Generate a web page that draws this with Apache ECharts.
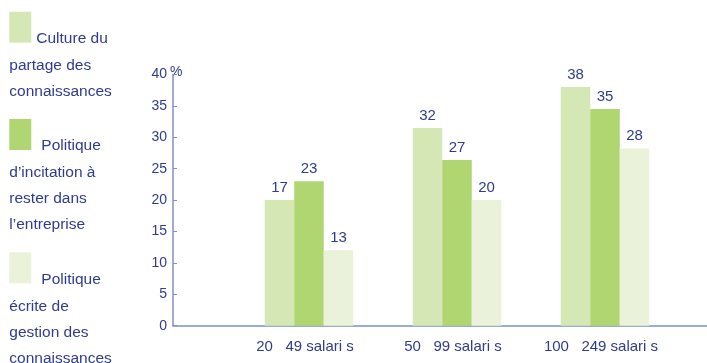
<!DOCTYPE html>
<html>
<head>
<meta charset="utf-8">
<style>
  html, body { margin: 0; padding: 0; background: #fff; }
  #chart { width: 707px; height: 363px; }
</style>
<script src="https://cdn.jsdelivr.net/npm/echarts@6/dist/echarts.min.js"></script>
</head>
<body>
<div id="chart"></div>
<script>
// catégories (texte tel qu'imprimé)
const categories = ['20   49 salari s', '50   99 salari s', '100   249 salari s'];
const seriesNames = [
  'Culture du\npartage des\nconnaissances',
  'Politique\nd\u2019incitation à\nrester dans\nl\u2019entreprise',
  'Politique\nécrite de\ngestion des\nconnaissances'
];
// hauteur des barres
const culture = [20, 31.5, 38];
const incitation = [23, 26.4, 34.5];
const ecrite = [12, 20, 28.2];
// étiquettes imprimées au-dessus des barres
const cultureLabels = [17, 32, 38];
const incitationLabels = [23, 27, 35];
const ecriteLabels = [13, 20, 28];
const yTicks = [0, 5, 10, 15, 20, 25, 30, 35, 40];

const colors = ['#d6e7b6', '#b0d672', '#eaf2da'];
const textColor = '#2f3c8f';
const axisColor = '#8190c6';
const font = 'Liberation Sans, Arial, sans-serif';

let chart = echarts.init(document.getElementById('chart'));

// légende : carré de couleur + texte sur plusieurs lignes (renvoi sous le carré)
const txt = { fontSize: 15.5, fontFamily: font, color: textColor };
const rich = {
  first: { ...txt, lineHeight: 12, height: 28, verticalAlign: 'bottom', padding: [0, 0, 0, 5] },
  firstWide: { ...txt, lineHeight: 12, height: 28, verticalAlign: 'bottom', padding: [0, 0, 0, 10] },
  next: { ...txt, lineHeight: 26 }
};
colors.forEach((c, i) => {
  rich['box' + i] = { width: 22, height: 31, lineHeight: 41, verticalAlign: 'top', backgroundColor: c };
});

const makeSeries = (name, data, labels, idx) => ({
  name: name,
  type: 'bar',
  xAxisIndex: 0,
  yAxisIndex: 0,
  data: data,
  barWidth: 29.5,
  barGap: '0%',
  itemStyle: { color: colors[idx] },
  label: {
    show: true,
    position: 'top',
    distance: 5,
    color: textColor,
    fontSize: 15,
    fontFamily: font,
    formatter: (p) => String(labels[p.dataIndex])
  }
});

let option = {
  animation: false,
  legend: {
    orient: 'vertical',
    left: 4.3,
    top: 11.7,
    height: 420,
    padding: 0,
    itemWidth: 0,
    itemHeight: 0,
    itemGap: 19.3,
    selectedMode: false,
    data: seriesNames,
    formatter: (name) => {
      const idx = seriesNames.indexOf(name);
      const lines = name.split('\n');
      let out = '{box' + idx + '| }{' + (idx === 0 ? 'first' : 'firstWide') + '|' + lines[0] + '}';
      lines.slice(1).forEach((l) => {
        out += '\n{next|' + l + '}';
      });
      return out;
    },
    textStyle: { rich: rich }
  },
  grid: [
    // barres
    { left: 235, right: 28, top: 74.5, bottom: 37.3 },
    // axes visibles
    { left: 173, right: 0, top: 74.5, bottom: 37.3 }
  ],
  xAxis: [
    {
      gridIndex: 0,
      type: 'category',
      data: categories,
      axisLine: { show: false },
      axisTick: { show: false },
      axisLabel: {
        interval: 0,
        color: textColor,
        fontSize: 15,
        fontFamily: font,
        margin: 14,
        padding: [0, 8, 0, 0]
      }
    },
    {
      gridIndex: 1,
      type: 'value',
      min: 0,
      max: 1,
      axisLine: { show: true, onZero: false, lineStyle: { color: axisColor, width: 1.5 } },
      axisTick: { show: false },
      axisLabel: { show: false },
      splitLine: { show: false }
    }
  ],
  yAxis: [
    {
      gridIndex: 0,
      type: 'value',
      min: 0,
      max: 40,
      interval: 5,
      show: false
    },
    {
      gridIndex: 1,
      type: 'value',
      min: yTicks[0],
      max: yTicks[yTicks.length - 1],
      interval: 5,
      name: '%',
      nameLocation: 'end',
      nameGap: 2,
      nameMoveOverlap: false,
      nameTextStyle: {
        color: textColor,
        fontSize: 14,
        fontFamily: font,
        align: 'left',
        verticalAlign: 'middle',
        padding: [0, 0, 0, -3]
      },
      axisLine: { show: true, onZero: false, lineStyle: { color: axisColor, width: 1.5 } },
      axisTick: { show: true, inside: true, length: 4, lineStyle: { color: axisColor } },
      axisLabel: {
        color: textColor,
        fontSize: 14,
        fontFamily: font,
        margin: 6,
        padding: [0, 0, 3, 0]
      },
      splitLine: { show: false }
    }
  ],
  series: [
    makeSeries(seriesNames[0], culture, cultureLabels, 0),
    makeSeries(seriesNames[1], incitation, incitationLabels, 1),
    makeSeries(seriesNames[2], ecrite, ecriteLabels, 2)
  ]
};

chart.setOption(option, true);
window.addEventListener('resize', function () {
  chart.resize();
});
</script>
</body>
</html>
